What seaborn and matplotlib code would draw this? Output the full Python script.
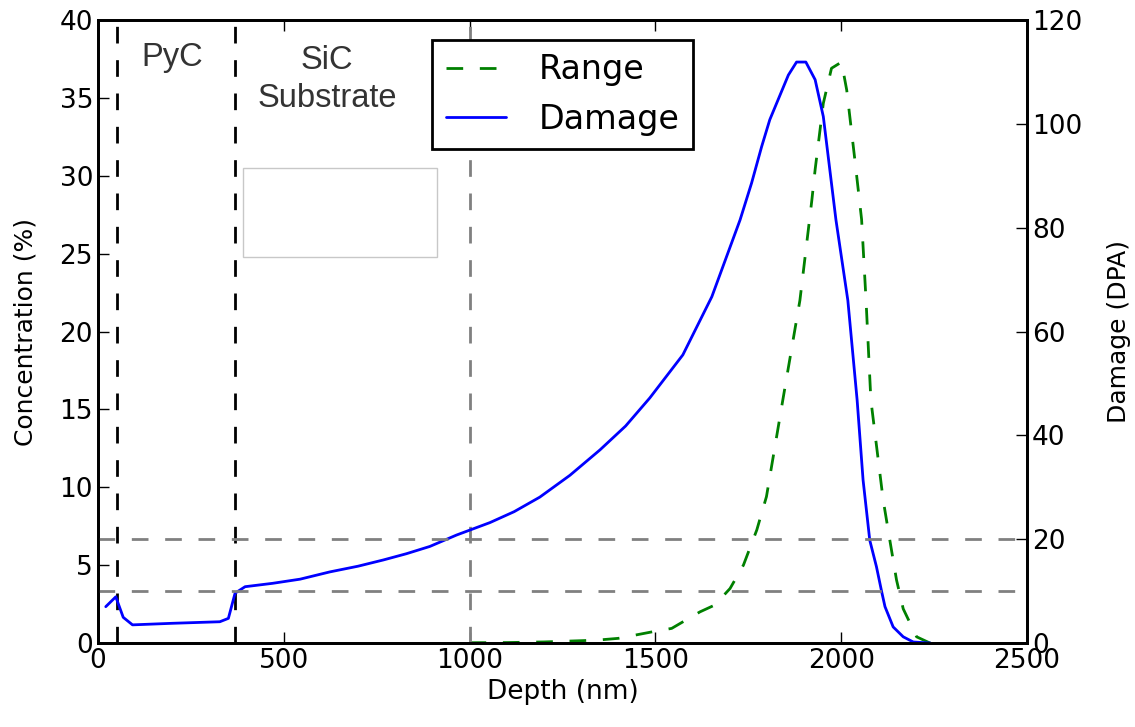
import matplotlib
matplotlib.use("Agg")
import matplotlib.pyplot as plt
import seaborn as sns
import pandas as pd
from matplotlib.patches import Rectangle

# damage profile (DPA, right axis)
dmg_depth = [21, 48, 68, 93, 200, 328, 351, 369, 396, 470, 544, 624, 700, 768, 830, 893, 965,
             1055, 1120, 1189, 1270, 1351, 1420, 1485, 1574, 1652, 1728, 1759, 1786, 1808, 1858,
             1880, 1905, 1930, 1952, 1986, 2018, 2043, 2059, 2077, 2095, 2109, 2118, 2140, 2167, 2194, 2240]
dmg_value = [7.0, 8.9, 4.95, 3.5, 3.8, 4.1, 4.75, 9.6, 10.85, 11.5, 12.3, 13.7, 14.8, 16.0, 17.2, 18.6, 20.8,
             23.2, 25.3, 28.1, 32.3, 37.2, 41.8, 47.2, 55.5, 66.7, 81.5, 88.6, 95.6, 100.8, 109.4,
             111.9, 111.9, 108.5, 101.4, 81.5, 66.0, 46.8, 31.4, 19.8, 14.7, 9.9, 7.0, 3.1, 1.2, 0.2, 0.0]

# implanted range profile (concentration %, left axis)
rng_depth = [1000, 1100, 1200, 1300, 1345, 1400, 1494, 1544, 1620, 1660, 1701, 1737, 1773, 1799, 1843,
             1889, 1921, 1930, 1952, 1974, 2001, 2015, 2037, 2055, 2067, 2080, 2113, 2131, 2149, 2167, 2203, 2239, 2260]
rng_value = [0.02, 0.03, 0.07, 0.15, 0.19, 0.3, 0.73, 0.94, 2.0, 2.44, 3.5, 5.0, 7.26, 9.4, 15.6,
             22.0, 28.4, 30.4, 34.65, 36.9, 37.3, 35.5, 31.0, 27.2, 22.0, 15.6, 9.2, 6.6, 4.05, 2.2, 0.4, 0.0, 0.0]

layer_bounds = [50, 370]
dpa_levels = [10, 20]
marker_depth = 1000

dmg = pd.DataFrame({"depth": dmg_depth, "dpa": dmg_value})
rng = pd.DataFrame({"depth": rng_depth, "conc": rng_value})

sns.set_style("ticks")
plt.rcParams["font.family"] = ["DejaVu Sans"]
plt.rcParams["xtick.direction"] = "in"
plt.rcParams["ytick.direction"] = "in"
for k in ["text.color", "axes.labelcolor", "xtick.color", "ytick.color"]:
    plt.rcParams[k] = "black"

fig = plt.figure(figsize=(11.35, 7.27), dpi=100)
ax = fig.add_axes([0.0863, 0.1155, 0.8185, 0.857])
ax2 = ax.twinx()

sns.lineplot(data=rng, x="depth", y="conc", ax=ax, color="green", lw=2,
             dashes=False, label="Range")
ax.lines[-1].set_dashes([6, 6])
sns.lineplot(data=dmg, x="depth", y="dpa", ax=ax2, color="blue", lw=2, label="Damage")

for d in layer_bounds:
    ax.axvline(d, color="black", lw=2, dashes=(6, 6))
ax.axvline(marker_depth, color="grey", lw=2, dashes=(6, 6))
for lv in dpa_levels:
    ax2.axhline(lv, color="grey", lw=2, dashes=(6, 6))

ax.add_patch(Rectangle((390, 24.8), 522, 5.7, fill=False, edgecolor="#c8c8c8", lw=1))

ax.text(199, 37.6, "PyC", ha="center", va="center", fontsize=23.5,
        family=["Liberation Sans"], color="#333333")
ax.text(616, 36.2, "SiC\nSubstrate", ha="center", va="center", fontsize=23.5,
        family=["Liberation Sans"], color="#333333", linespacing=1.3)

ax.set_xlim(0, 2500)
ax.set_ylim(0, 40)
ax2.set_ylim(0, 120)
ax.set_xticks([0, 500, 1000, 1500, 2000, 2500])
ax.set_yticks(range(0, 41, 5))
ax2.set_yticks(range(0, 121, 20))
ax.set_xlabel("Depth (nm)", fontsize=19)
ax.set_ylabel("Concentration (%)", fontsize=18, labelpad=16)
ax2.set_ylabel("Damage (DPA)", fontsize=18, labelpad=18)
ax.tick_params(labelsize=19, top=True, length=8, width=1)
ax2.tick_params(labelsize=19, length=8, width=1)
for a in (ax, ax2):
    for s in a.spines.values():
        s.set_linewidth(2)
        s.set_color("black")

ax.get_legend().remove()
ax2.get_legend().remove()
h1, l1 = ax.get_legend_handles_labels()
h2, l2 = ax2.get_legend_handles_labels()
leg = ax2.legend(h1 + h2, l1 + l2, loc="upper left", bbox_to_anchor=(0.36, 0.968),
                 borderaxespad=0, fontsize=24, fancybox=False, framealpha=1,
                 handlelength=1.8, borderpad=0.4, labelspacing=0.5, handletextpad=1.0)
leg.get_frame().set_edgecolor("black")
leg.get_frame().set_linewidth(2)

fig.savefig("out.png", dpi=100)
